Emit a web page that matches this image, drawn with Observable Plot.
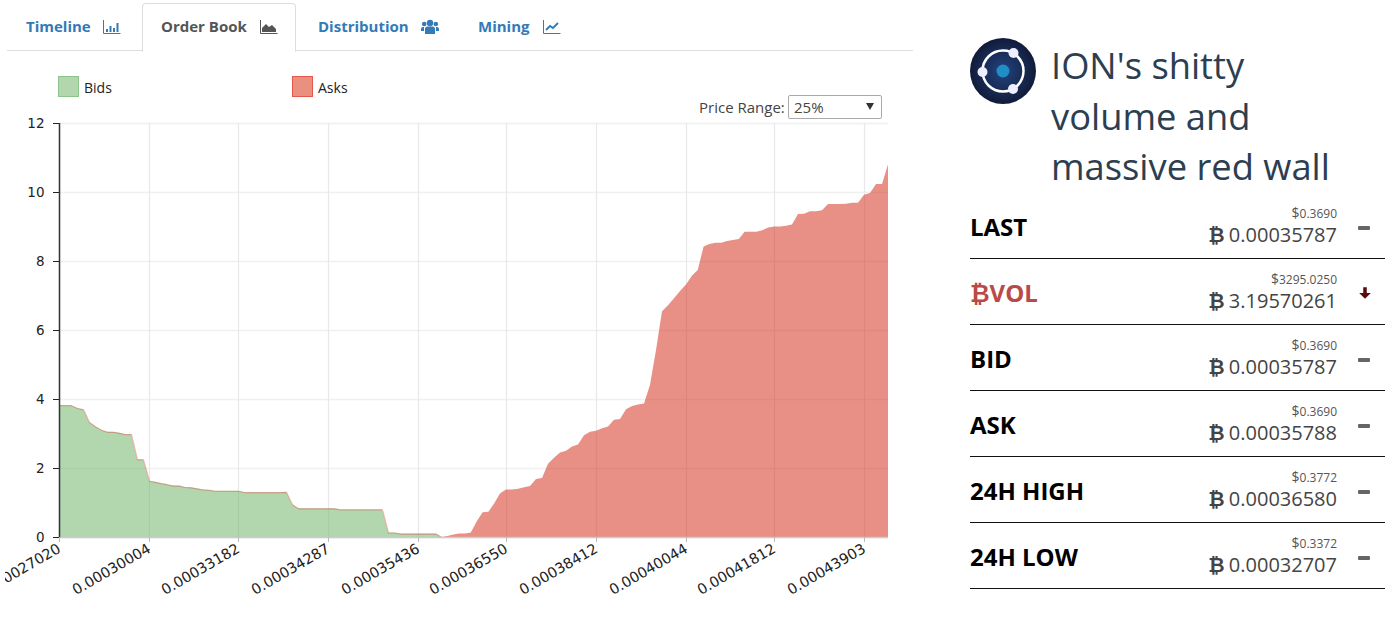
<!DOCTYPE html>
<html><head><meta charset="utf-8">
<script src="https://cdn.jsdelivr.net/npm/d3@7"></script>
<script src="https://cdn.jsdelivr.net/npm/@observablehq/plot@0.6"></script>
<style>
html,body{margin:0;padding:0;background:#fff;overflow:hidden;width:1393px;height:624px;font-family:"Open Sans",sans-serif}
.abs{position:absolute}
.tab{position:absolute;top:16px;font-size:15px;font-weight:700;color:#337ab7;line-height:21px;white-space:nowrap}
.tab svg{position:absolute;top:3px}
#base{left:7px;top:50px;width:906px;height:1px;background:#ddd}
#active{left:142px;top:3px;width:152px;height:47px;border:1px solid #ddd;border-bottom:1px solid #fff;border-radius:4px 4px 0 0;background:#fff}
.sw{position:absolute;top:76px;width:19px;height:19px;border-width:1.5px;border-style:solid}
.lg{position:absolute;top:78px;font-size:14px;line-height:19px;color:#222}
#pr{left:699px;top:97px;font-size:15px;line-height:21px;color:#444}
#sel{left:788px;top:95px;width:92px;height:22px;border:1px solid #aaa;border-radius:2px;font-size:15px;line-height:22px;color:#444;background:#fff}
#sel span{position:absolute;left:5px}
#sel i{position:absolute;left:77px;top:7px;width:0;height:0;border-left:4px solid transparent;border-right:4px solid transparent;border-top:7px solid #333}
#chart{left:5px;top:113px;width:890px;height:500px}
#chart svg{display:block;max-width:none}
#title{left:1051px;top:40px;font-size:36.300px;font-weight:500;line-height:50.500px;color:#2c3e50;white-space:nowrap}
.row{position:absolute;left:970px;width:415px;height:65px;border-bottom:1px solid #111}
.row .lab{position:absolute;left:0;top:18px;font-size:24px;font-weight:700;line-height:32px;color:#000;white-space:nowrap}
.row .usd{position:absolute;right:48px;top:12px;font-size:12px;line-height:16px;color:#555}
.row .usd em{font-style:normal;font-size:14px}
.row .btc{position:absolute;right:48px;top:28px;font-size:20px;line-height:27px;color:#444;white-space:nowrap}
.row .btc b{font-family:"DejaVu Sans",sans-serif;font-weight:700;margin-right:-1px}
.row .lab b{font-family:"DejaVu Sans",sans-serif;font-weight:700}
.row .dash{position:absolute;left:388px;top:33px;width:12px;height:4px;border-radius:1px;background:#666}
.row svg{position:absolute;left:388px;top:27px}
</style></head>
<body>
<div class="abs" id="base"></div>
<div class="abs" id="active"></div>
<div class="tab" style="left:26px">Timeline<svg style="left:77px" width="18" height="16" viewBox="0 0 18 16"><path d="M.5 1v13.5H17.5" fill="none" stroke="#337ab7"/><path d="M3 10h2v3H3zM6.500 7h2v6h-2zM10 9h2v4h-2zM13.500 4h2v9h-2z" fill="#337ab7"/></svg></div>
<div class="tab" style="left:161px;color:#555">Order Book<svg style="left:99px" width="18" height="16" viewBox="0 0 18 16"><path d="M.5 1v13.5H17.500" fill="none" stroke="#555"/><path d="M2 13V9l4-4 3 3 3-2 4 4v3z" fill="#555"/></svg></div>
<div class="tab" style="left:318px">Distribution<svg style="left:103px" width="18" height="16" viewBox="0 0 18 16"><circle cx="9" cy="4" r="3.200" fill="#337ab7"/><circle cx="3.200" cy="5" r="2.300" fill="#337ab7"/><circle cx="14.800" cy="5" r="2.300" fill="#337ab7"/><path d="M4 15V10q0-2.500 2.500-2.500h5Q14 7.500 14 10v5zM0 12V10q0-2 2-2h1L3 12zM18 12V10q0-2-2-2h-1l0 4z" fill="#337ab7"/></svg></div>
<div class="tab" style="left:478px">Mining<svg style="left:65px" width="18" height="16" viewBox="0 0 18 16"><path d="M.5 1v13.500H17.500" fill="none" stroke="#337ab7"/><path d="M3 11l4-4 3 2 5-5" fill="none" stroke="#337ab7" stroke-width="1.800"/></svg></div>

<div class="sw" style="left:58px;background:#b2d6ae;border-color:#8cc48a"></div>
<div class="lg" style="left:84px">Bids</div>
<div class="sw" style="left:292px;background:#e9907f;border-color:#e2584c"></div>
<div class="lg" style="left:318px">Asks</div>
<div class="abs" id="pr">Price Range:</div>
<div class="abs" id="sel"><span>25%</span><i></i></div>
<div class="abs" id="chart"></div>

<svg class="abs" style="left:970px;top:38px" width="66" height="66" viewBox="0 0 66 66">
<defs><radialGradient id="lg"><stop offset="0" stop-color="#23447f"/><stop offset="1" stop-color="#111b3a"/></radialGradient></defs>
<circle cx="33" cy="33" r="33" fill="url(#lg)"/>
<circle cx="33" cy="33" r="20.500" fill="none" stroke="#fff" stroke-width="2.500"/>
<circle cx="33" cy="33" r="6.500" fill="#1f8dc6"/>
<circle cx="43.500" cy="15" r="5" fill="#eef"/><circle cx="12.500" cy="34" r="5" fill="#eef"/><circle cx="43" cy="51" r="5" fill="#eef"/>
</svg>
<div class="abs" id="title">ION's shitty<br>volume and<br>massive red wall</div>
<div id="rows"></div>

<script>
const statLabels = ["LAST", "VOL", "BID", "ASK", "24H HIGH", "24H LOW"];
const statUsd = ["0.3690", "3295.0250", "0.3690", "0.3690", "0.3772", "0.3372"];
const statBtc = ["0.00035787", "3.19570261", "0.00035787", "0.00035788", "0.00036580", "0.00032707"];
const statTrend = ["flat", "down", "flat", "flat", "flat", "flat"];

const priceLabels = ["0.00027020", "0.00030004", "0.00033182", "0.00034287", "0.00035436", "0.00036550", "0.00038412", "0.00040044", "0.00041812", "0.00043903"];
const yTicks = [0, 2, 4, 6, 8, 10, 12];

const bidDepth = [3.82,3.82,3.82,3.74,3.70,3.33,3.21,3.11,3.05,3.05,3.02,2.98,2.98,2.25,2.25,
  1.63,1.60,1.56,1.53,1.49,1.49,1.45,1.44,1.41,1.38,1.37,1.34,1.34,1.34,1.34,
  1.34,1.30,1.30,1.30,1.30,1.30,1.30,1.30,1.31,0.95,0.83,0.83,0.83,0.83,0.83,
  0.83,0.83,0.80,0.80,0.80,0.80,0.80,0.80,0.80,0.80,0.13,0.13,0.10,0.10,0.10,
  0.10,0.10,0.10,0.10,0];
const askDepth = [0,0.03,0.07,0.10,0.10,0.13,0.45,0.72,0.73,0.98,1.27,
  1.38,1.38,1.40,1.44,1.48,1.68,1.71,2.12,2.30,2.45,2.50,2.62,2.68,2.95,3.05,
  3.08,3.15,3.20,3.40,3.42,3.70,3.80,3.84,3.87,4.41,5.42,6.54,6.72,6.92,7.13,
  7.32,7.57,7.74,8.42,8.49,8.53,8.53,8.58,8.61,8.64,8.85,8.85,8.85,8.89,8.97,
  9.00,9.00,9.02,9.06,9.36,9.37,9.44,9.44,9.47,9.65,9.65,9.65,9.66,9.69,9.69,
  9.92,9.97,10.23,10.23,10.80];

const levelStep = 15;
const tickLevels = priceLabels.map((_, i) => i * levelStep);
const lastLevel = bidDepth.length - 1 + askDepth.length - 1;
const bidRows = bidDepth.map((depth, i) => ({level: i, depth}));
const askRows = askDepth.map((depth, i) => ({level: bidDepth.length - 1 + i, depth}));

const bidColor = "#73b46c", askColor = "#d73523";
const gridH = "#f0f0f0", gridV = "#e8e8e8";

const plot = Plot.plot({
  width: 890, height: 500, marginTop: 10, marginLeft: 54, marginRight: 7, marginBottom: 76,
  style: {fontFamily: '"DejaVu Sans",sans-serif', fontSize: "13.500px", color: "#222", background: "transparent", overflow: "hidden"},
  x: {type: "linear", domain: [...tickLevels, lastLevel], range: [54, 144, 233, 323, 413, 501, 591, 681, 769, 859, 883]},
  y: {domain: [0, 12]},
  marks: [
    Plot.gridY(yTicks, {stroke: gridH, strokeOpacity: 1, strokeWidth: 1.5}),
    Plot.gridX(tickLevels, {stroke: gridV, strokeOpacity: 1, strokeWidth: 1.2}),
    Plot.areaY(bidRows, {x: "level", y: "depth", fill: bidColor, fillOpacity: 0.55}),
    Plot.areaY(askRows, {x: "level", y: "depth", fill: askColor, fillOpacity: 0.55}),
    Plot.line(bidRows, {x: "level", y: "depth", stroke: askColor, strokeOpacity: 0.35, strokeWidth: 1.2}),
    Plot.ruleY([0], {stroke: "#ccc", strokeWidth: 1.5}),
    Plot.ruleX([0], {stroke: "#333", strokeWidth: 1.5}),
    Plot.axisY(yTicks, {label: null, tickSize: 6, tickPadding: 9, stroke: "#222", fill: "#222"}),
    Plot.axisX(tickLevels, {label: null, tickSize: 5, tickPadding: 5, tickRotate: -30, fontSize: 14.5, stroke: "#bbb", fill: "#222",
      tickFormat: d => priceLabels[d / levelStep]})
  ]
});
document.getElementById("chart").append(plot);

const rows = d3.select("#rows").selectAll("div").data(statLabels).join("div")
  .attr("class", "row").style("top", (d, i) => (193 + i * 66) + "px");
rows.append("div").attr("class", "lab").style("color", (d, i) => statTrend[i] === "down" ? "#b94a48" : null)
  .html((d, i) => statTrend[i] === "down" ? "<b>₿</b>" + d : d);
rows.append("div").attr("class", "usd").html((d, i) => "<em>$</em>" + statUsd[i]);
rows.append("div").attr("class", "btc").html((d, i) => "<b>₿</b> " + statBtc[i]);
rows.each(function(d, i) {
  const r = d3.select(this);
  if (statTrend[i] === "flat") r.append("div").attr("class", "dash");
  else r.append("svg").attr("width", 14).attr("height", 14).attr("viewBox", "0 0 12 12")
    .append("path").attr("d", "M4.500 1h3v5h3.500L6 11 1 6h3.500z").attr("fill", "#5a0a0a");
});
</script>
</body></html>
